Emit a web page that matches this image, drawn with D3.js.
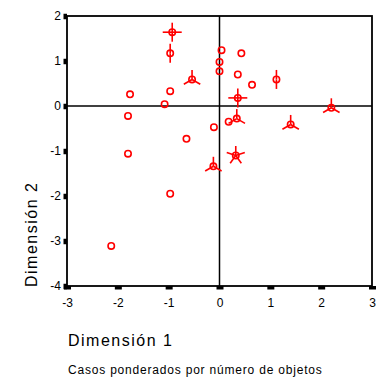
<!DOCTYPE html>
<html>
<head>
<meta charset="utf-8">
<script src="https://cdn.jsdelivr.net/npm/d3@7"></script>
<style>
  body { margin: 0; background: #fff; }
  text { font-family: "Liberation Sans", Arial, sans-serif; fill: #000; }
</style>
</head>
<body>
<div id="chart"></div>
<script>
// object scores, dimension 1 / dimension 2, and the case weight (sunflower petals)
const dim1 = [-0.93, -0.97, -0.54, -1.76, -0.97, -1.08, -1.80, -0.11, -0.65, -1.80,
              0.04, 0.43, 0.00, 0.00, 0.36, 0.64, 1.12, 0.36, 0.34, 0.18,
              1.40, 2.20, 0.32, -0.12, -0.97, -2.13];
const dim2 = [1.64, 1.17, 0.59, 0.26, 0.33, 0.04, -0.22, -0.47, -0.73, -1.06,
              1.24, 1.17, 0.98, 0.77, 0.70, 0.47, 0.59, 0.18, -0.28, -0.35,
              -0.41, -0.04, -1.10, -1.34, -1.95, -3.11];
const weight = [4, 2, 3, 1, 1, 1, 1, 1, 1, 1,
                1, 1, 1, 1, 1, 1, 2, 4, 3, 1,
                3, 3, 5, 3, 1, 1];
const xTicks = [-3, -2, -1, 0, 1, 2, 3];
const yTicks = [2, 1, 0, -1, -2, -3, -4];

const width = 389, height = 383;
const margin = {top: 16, right: 17, bottom: 97, left: 67};
const w = width - margin.left - margin.right,
      h = height - margin.top - margin.bottom;

const svg = d3.select("#chart").append("svg")
  .attr("width", width)
  .attr("height", height);

const g = svg.append("g")
  .attr("transform", "translate(" + margin.left + "," + margin.top + ")");

const x = d3.scaleLinear().domain([-3, 3]).range([0, w]),
      y = d3.scaleLinear().domain([-4, 2]).range([h, 0]);

const pts = dim1.map(function (d, i) { return {x: d, y: dim2[i], n: weight[i]}; });

// axes with short thick ticks
g.append("g")
  .attr("class", "axis axis--x")
  .attr("transform", "translate(0," + h + ")")
  .call(d3.axisBottom(x).tickValues(xTicks).tickSize(3.5).tickPadding(8.5).tickFormat(d3.format("d")))
  .call(function (a) {
    a.select(".domain").remove();
    a.selectAll("line").attr("stroke", "#000").attr("stroke-width", 7);
    a.selectAll("text").style("font-size", "12px")
      .text(function (d) { return d < 0 ? "-" + Math.abs(d) : d; });
  });

g.append("g")
  .attr("class", "axis axis--y")
  .call(d3.axisLeft(y).tickValues(yTicks).tickSize(3.5).tickPadding(2.5))
  .call(function (a) {
    a.select(".domain").remove();
    a.selectAll("line").attr("stroke", "#000").attr("stroke-width", 5.5);
    a.selectAll("text").style("font-size", "12px")
      .text(function (d) { return d < 0 ? "-" + Math.abs(d) : d; });
  });

// reference lines at zero
g.append("line")
  .attr("x1", x(0)).attr("x2", x(0)).attr("y1", 0).attr("y2", h)
  .attr("stroke", "#000").attr("stroke-width", 1.5);
g.append("line")
  .attr("x1", 0).attr("x2", w).attr("y1", y(0)).attr("y2", y(0))
  .attr("stroke", "#000").attr("stroke-width", 1.5);

// frame
g.append("rect")
  .attr("width", w).attr("height", h)
  .attr("fill", "none").attr("stroke", "#000").attr("stroke-width", 1.8);

// sunflowers
const flower = g.selectAll(".flower")
  .data(pts).enter()
  .append("g")
    .attr("class", "flower")
    .attr("transform", function (d) { return "translate(" + x(d.x) + "," + y(d.y) + ")"; });

const petalLen = 9.5;
flower.each(function (d) {
  if (d.n < 2) return;
  const angles = d3.range(d.n).map(function (k) { return -Math.PI / 2 + k * 2 * Math.PI / d.n; });
  d3.select(this).selectAll("line")
    .data(angles).enter()
    .append("line")
      .attr("x1", 0).attr("y1", 0)
      .attr("x2", function (a) { return petalLen * Math.cos(a); })
      .attr("y2", function (a) { return petalLen * Math.sin(a); })
      .attr("stroke", "#f00").attr("stroke-width", 1.6);
});

flower.append("circle")
  .attr("r", 3.2)
  .attr("fill", "none")
  .attr("stroke", "#f00")
  .attr("stroke-width", 1.6);

// titles
svg.append("text")
  .attr("x", 68).attr("y", 346)
  .style("font-size", "16px").style("letter-spacing", "1.5px")
  .text("Dimensión 1");

svg.append("text")
  .attr("transform", "translate(37,287) rotate(-90)")
  .style("font-size", "16px").style("letter-spacing", "1.5px")
  .text("Dimensión 2");

svg.append("text")
  .attr("x", 68).attr("y", 374)
  .style("font-size", "12px").style("letter-spacing", "0.8px")
  .text("Casos ponderados por número de objetos");
</script>
</body>
</html>
